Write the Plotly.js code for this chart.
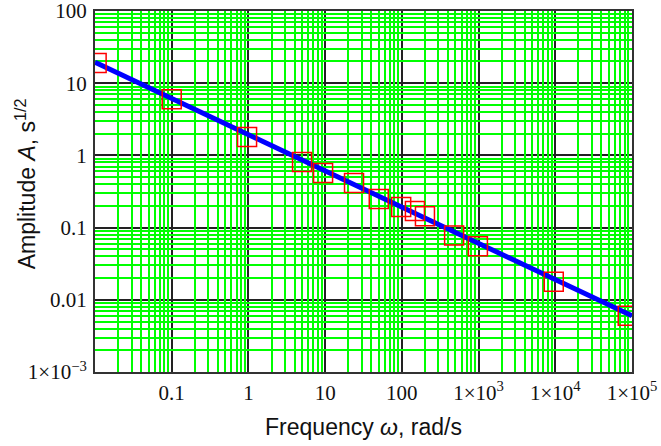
<!DOCTYPE html>
<html>
<head>
<meta charset="utf-8">
<script src="https://cdn.plot.ly/plotly-3.0.1.min.js"></script>
<style>html,body{margin:0;padding:0;background:#fff;}#chart{width:661px;height:446px;}</style>
</head>
<body>
<div id="chart"></div>
<script>
// Measured data points (red squares)
const omegaPts = [0.0105, 0.1, 0.96, 5.0, 9.4, 23.8, 50, 98, 148, 200, 480, 980, 9550, 88000];
const ampPts   = [19, 6.0, 1.8, 0.81, 0.57, 0.415, 0.249, 0.193, 0.17, 0.144, 0.078, 0.055, 0.0178, 0.006];
// Fitted line endpoints
const omegaFit = [0.01, 100000];
const ampFit   = [19.5, 0.006];
// Tick labels
const xTickVals = [0.01, 0.1, 1, 10, 100, 1000, 10000, 100000];
const xTickText = [' ', '0.1', '1', '10', '100', '1×10<sup>3</sup>', '1×10<sup>4</sup>', '1×10<sup>5</sup>'];
const yTickVals = [0.001, 0.01, 0.1, 1, 10, 100];
const yTickText = ['1×10<sup>−3</sup>', '0.01', '0.1', '1', '10', '100'];
const minorDigits = [2, 3, 4, 5, 6, 7, 8, 9];

function minorVals(decades) {
  const out = [];
  decades.forEach(d => minorDigits.forEach(m => out.push(+(m * d).toPrecision(3))));
  return out;
}
const xMinor = minorVals(xTickVals.slice(0, -1));
const yMinor = minorVals(yTickVals.slice(0, -1));

const traces = [
  {x: omegaFit, y: ampFit, mode: 'lines', line: {color: '#0000ff', width: 5}, hoverinfo: 'skip'},
  {x: omegaPts, y: ampPts, mode: 'markers',
   marker: {symbol: 'square-open', size: 19, color: '#ff0000', line: {width: 1.5, color: '#ff0000'}}}
];

const tickFont = {family: '"Liberation Serif", "Times New Roman", serif', size: 21, color: '#111'};
const titleFont = {family: '"Liberation Sans", Arial, sans-serif', size: 23, color: '#111'};

const minorAxis = (vals) => ({
  type: 'log', tickmode: 'array', tickvals: vals, showticklabels: false, ticks: '',
  showgrid: true, gridcolor: '#00ff00', gridwidth: 2, zeroline: false, showline: false
});

const layout = {
  width: 661, height: 446,
  margin: {l: 95, r: 29, t: 11, b: 74},
  paper_bgcolor: '#fff', plot_bgcolor: '#fff',
  showlegend: false,
  xaxis2: Object.assign(minorAxis(xMinor), {overlaying: 'x', range: [-2, 5], anchor: 'y'}),
  yaxis2: Object.assign(minorAxis(yMinor), {overlaying: 'y', range: [-3, 2], anchor: 'x'}),
  xaxis: {
    type: 'log', range: [-2, 5],
    tickmode: 'array', tickvals: xTickVals, ticktext: xTickText,
    tickfont: tickFont, ticks: '', ticklabelstandoff: 1, ticklabeloverflow: 'allow',
    showgrid: true, gridcolor: '#222', gridwidth: 2,
    showline: true, mirror: true, linecolor: '#333', linewidth: 2,
    zeroline: false,
    title: {text: 'Frequency <i>ω</i>, rad/s', font: titleFont, standoff: 15}
  },
  yaxis: {
    type: 'log', range: [-3, 2],
    tickmode: 'array', tickvals: yTickVals, ticktext: yTickText,
    tickfont: tickFont, ticks: '', ticklabelstandoff: 2, ticklabeloverflow: 'allow',
    showgrid: true, gridcolor: '#222', gridwidth: 2,
    showline: true, mirror: true, linecolor: '#333', linewidth: 2,
    zeroline: false
  },
  annotations: [{
    text: 'Amplitude <i>A</i>, s<sup>1/2</sup>', font: titleFont, textangle: -90,
    xref: 'paper', yref: 'paper', x: 0, y: 0.52, xanchor: 'center', yanchor: 'middle',
    xshift: -69, showarrow: false
  }]
};

// invisible trace that activates the minor-grid overlay axes
traces.unshift({x: [omegaFit[0]], y: [ampFit[0]], xaxis: 'x2', yaxis: 'y2', mode: 'markers',
  marker: {opacity: 0}, hoverinfo: 'skip'});

Plotly.newPlot('chart', traces, layout, {displayModeBar: false, staticPlot: true});
</script>
</body>
</html>
